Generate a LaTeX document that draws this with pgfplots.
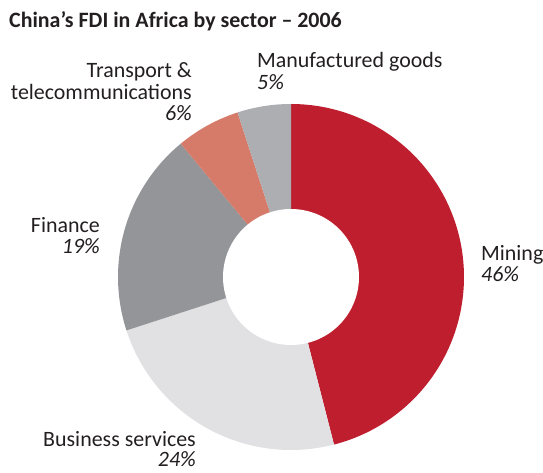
\documentclass[border=0pt]{standalone}
\usepackage{pgfplots}
\usepackage{pgfplotstable}
\pgfplotsset{compat=1.18}
\usepackage{fontspec}
\setmainfont{Carlito}
\definecolor{cMin}{HTML}{BE1E2D}
\definecolor{cBus}{HTML}{E1E1E3}
\definecolor{cFin}{HTML}{939598}
\definecolor{cTra}{HTML}{D67B6A}
\definecolor{cMan}{HTML}{ACAEB1}
\definecolor{txt}{HTML}{231F20}
% sector shares (%), clockwise from 12 o'clock
\pgfplotstableread{
pct
46
24
19
6
5
}\sectors
\def\cum{0}
\foreach \i/\n in {0/a,1/b,2/c,3/d,4/e}{%
  \pgfplotstablegetelem{\i}{pct}\of\sectors
  \pgfmathsetmacro\s{90-3.6*\cum}%
  \pgfmathsetmacro\e{90-3.6*(\cum+\pgfplotsretval)}%
  \expandafter\xdef\csname s\n\endcsname{\s}%
  \expandafter\xdef\csname e\n\endcsname{\e}%
  \pgfmathsetmacro\c{\cum+\pgfplotsretval}\global\let\cum\c
}
\def\cx{291}\def\cy{196}\def\ro{173}\def\ri{68}
\begin{document}
\begin{tikzpicture}
\begin{axis}[name=ax, hide axis, scale only axis, x=1bp, y=1bp,
  xmin=0, xmax=543, ymin=0, ymax=473, clip=false]
\addplot[draw=none, forget plot] coordinates {(0,0) (543,473)};
\addplot[fill=cMin, draw=none, domain=\ea:\sa, samples=120, variable=\t]
  ({\cx+\ro*cos(\t)},{\cy+\ro*sin(\t)}) -- (axis cs:\cx,\cy) -- cycle;
\addplot[fill=cBus, draw=none, domain=\eb:\sb, samples=80, variable=\t]
  ({\cx+\ro*cos(\t)},{\cy+\ro*sin(\t)}) -- (axis cs:\cx,\cy) -- cycle;
\addplot[fill=cFin, draw=none, domain=\ec:\sc, samples=60, variable=\t]
  ({\cx+\ro*cos(\t)},{\cy+\ro*sin(\t)}) -- (axis cs:\cx,\cy) -- cycle;
\addplot[fill=cTra, draw=none, domain=\ed:\sd, samples=30, variable=\t]
  ({\cx+\ro*cos(\t)},{\cy+\ro*sin(\t)}) -- (axis cs:\cx,\cy) -- cycle;
\addplot[fill=cMan, draw=none, domain=\ee:\se, samples=30, variable=\t]
  ({\cx+\ro*cos(\t)},{\cy+\ro*sin(\t)}) -- (axis cs:\cx,\cy) -- cycle;
\addplot[fill=white, draw=none, domain=0:360, samples=120, variable=\t]
  ({\cx+\ri*cos(\t)},{\cy+\ri*sin(\t)}) -- cycle;
\begin{scope}[every node/.style={inner sep=0pt, text=txt, font=\fontsize{22}{22}\selectfont}]
\node[anchor=base west, font=\fontsize{22}{22}\selectfont\bfseries] at (axis cs:9,445) {China’s FDI in Africa by sector – 2006};
\node[anchor=base west] at (axis cs:257,405) {Manufactured goods};
\node[anchor=base west] at (axis cs:257,383) {\itshape 5\%};
\node[anchor=base east] at (axis cs:192,395) {Transport \&};
\node[anchor=base east] at (axis cs:192,373) {telecommunications};
\node[anchor=base east] at (axis cs:192,352) {\itshape 6\%};
\node[anchor=base east] at (axis cs:100,240) {Finance};
\node[anchor=base east] at (axis cs:100,219) {\itshape 19\%};
\node[anchor=base west] at (axis cs:481,212) {Mining};
\node[anchor=base west] at (axis cs:481,191) {\itshape 46\%};
\node[anchor=base east] at (axis cs:196,26) {Business services};
\node[anchor=base east] at (axis cs:196,6) {\itshape 24\%};
\end{scope}
\end{axis}
\pgfresetboundingbox
\path (ax.south west) rectangle (ax.north east);
\end{tikzpicture}
\end{document}
